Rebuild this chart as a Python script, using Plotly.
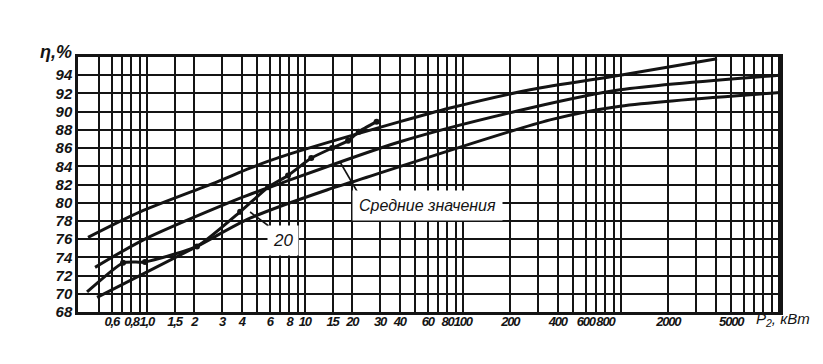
import plotly.graph_objects as go

# ---- data (P2 in kW, efficiency in %) ----
upper_x = [0.425, 0.907, 2.79, 4.51, 6.97, 40.1, 83.1, 267, 990, 4070]
upper_y = [76.2, 79.0, 82.3, 83.8, 85.0, 88.9, 90.4, 92.4, 94.0, 95.8]

mean_x = [0.471, 0.947, 3.90, 6.97, 40.1, 267, 990, 10190]
mean_y = [72.9, 75.9, 80.5, 82.1, 86.7, 90.4, 92.4, 94.0]

lower_x = [0.485, 2.08, 4.51, 13.8, 20.2, 357, 990, 10190]
lower_y = [69.6, 75.2, 78.3, 81.4, 82.3, 89.1, 90.6, 92.1]

s20_x = [0.419, 0.708, 0.975, 2.08, 3.90, 5.86, 7.84, 11.0, 14.9, 18.8, 22.0, 28.5]
s20_y = [70.2, 73.4, 73.5, 75.2, 79.0, 81.7, 83.0, 84.9, 86.0, 86.8, 87.8, 88.9]

x_tickvals = [0.6, 0.8, 1.0, 1.5, 2, 3, 4, 6, 8, 10, 15, 20, 30, 40, 60, 80,
              100, 200, 400, 600, 800, 2000, 5000]
x_labels = ["0,6", "0,8", "1,0", "1,5", "2", "3", "4", "6", "8",
            "10", "15", "20", "30", "40", "60", "80", "100", "200",
            "400", "600", "800", "2000", "5000"]
x_minor = [0.5, 0.7, 0.9, 5, 7, 9, 50, 70, 90, 300, 500, 700, 900, 1000,
           3000, 4000, 6000, 7000, 8000, 9000, 10000]
y_tickvals = list(range(68, 96, 2))
y_labels = [str(v) for v in y_tickvals]

INK = "#141414"
# tightly set digits, as in the printed scale
x_ticktext = ['<span style="letter-spacing:-1.2px">%s</span>' % t for t in x_labels]

fig = go.Figure()
for xs, ys in [(upper_x, upper_y), (mean_x, mean_y), (lower_x, lower_y)]:
    fig.add_trace(go.Scatter(x=xs, y=ys, mode="lines",
                             line=dict(color=INK, width=3, shape="spline", smoothing=0.8),
                             showlegend=False, hoverinfo="skip"))
fig.add_trace(go.Scatter(x=s20_x, y=s20_y, mode="lines",
                         line=dict(color=INK, width=3, shape="spline", smoothing=0.5),
                         showlegend=False, hoverinfo="skip"))
fig.add_trace(go.Scatter(x=s20_x[1:], y=s20_y[1:], mode="markers",
                         marker=dict(color=INK, size=6),
                         showlegend=False, hoverinfo="skip"))

fig.update_xaxes(type="log", range=[-0.435, 4.008],
                 tickmode="array", tickvals=x_tickvals, ticktext=x_ticktext,
                 tickangle=0, ticks="", ticklen=0, ticklabelstandoff=-4,
                 tickfont=dict(family="Liberation Sans", size=13, color=INK,
                               style="italic", weight="bold"),
                 showgrid=True, gridcolor=INK, gridwidth=2,
                 minor=dict(tickvals=x_minor, showgrid=True, gridcolor=INK, gridwidth=2, ticks=""),
                 showline=True, linecolor=INK, linewidth=2.5, mirror=True, zeroline=False)
fig.update_yaxes(range=[68, 96], tickmode="array", tickvals=y_tickvals, ticktext=y_labels,
                 ticks="", ticklen=0,
                 tickfont=dict(family="Liberation Sans", size=15, color=INK,
                               style="italic", weight="bold"),
                 showgrid=True, gridcolor=INK, gridwidth=2,
                 minor=dict(tickvals=[94, 96], showgrid=True, gridcolor=INK, gridwidth=2, ticks=""),
                 showline=True, linecolor=INK, linewidth=2.5, mirror=True, zeroline=False)

# leader lines (anchored at the curve, sized in pixels)
fig.add_shape(type="line", xref="x", yref="y", xsizemode="pixel", ysizemode="pixel",
              xanchor=16.73, yanchor=84.47, x0=0, y0=0, x1=18, y1=-31,
              line=dict(color=INK, width=1.6))
fig.add_shape(type="line", xref="x", yref="y", xsizemode="pixel", ysizemode="pixel",
              xanchor=4.51, yanchor=78.98, x0=0, y0=0, x1=24, y1=-18,
              line=dict(color=INK, width=1.6))

fig.add_annotation(x=1.777, y=79.69, xref="x", yref="y", text="Средние значения",
                   showarrow=False,
                   font=dict(family="Liberation Sans", size=16, color=INK, style="italic"),
                   bgcolor="white", borderpad=6)
fig.add_annotation(x=0.8595, y=75.9, xref="x", yref="y", text="20",
                   showarrow=False, font=dict(family="Liberation Sans", size=17, color=INK,
                                              style="italic"),
                   bgcolor="white", borderpad=5)
fig.add_annotation(x=-0.031, y=1.02, xref="paper", yref="paper", text="η,%",
                   showarrow=False, xanchor="center", yanchor="middle",
                   font=dict(family="Liberation Sans", size=18, color=INK, style="italic",
                             weight="bold"))
fig.add_annotation(x=1.004, y=-0.031, xref="paper", yref="paper", text="P<sub>2</sub>, кВт",
                   showarrow=False, xanchor="center", yanchor="middle",
                   font=dict(family="Liberation Sans", size=15, color=INK, style="italic"))

# the page body has an 8px margin, so the figure is sized to fit inside it
fig.update_layout(width=807, height=348, paper_bgcolor="white", plot_bgcolor="white",
                  margin=dict(l=70, r=35, t=49, b=44))
fig.write_html("out.html")
